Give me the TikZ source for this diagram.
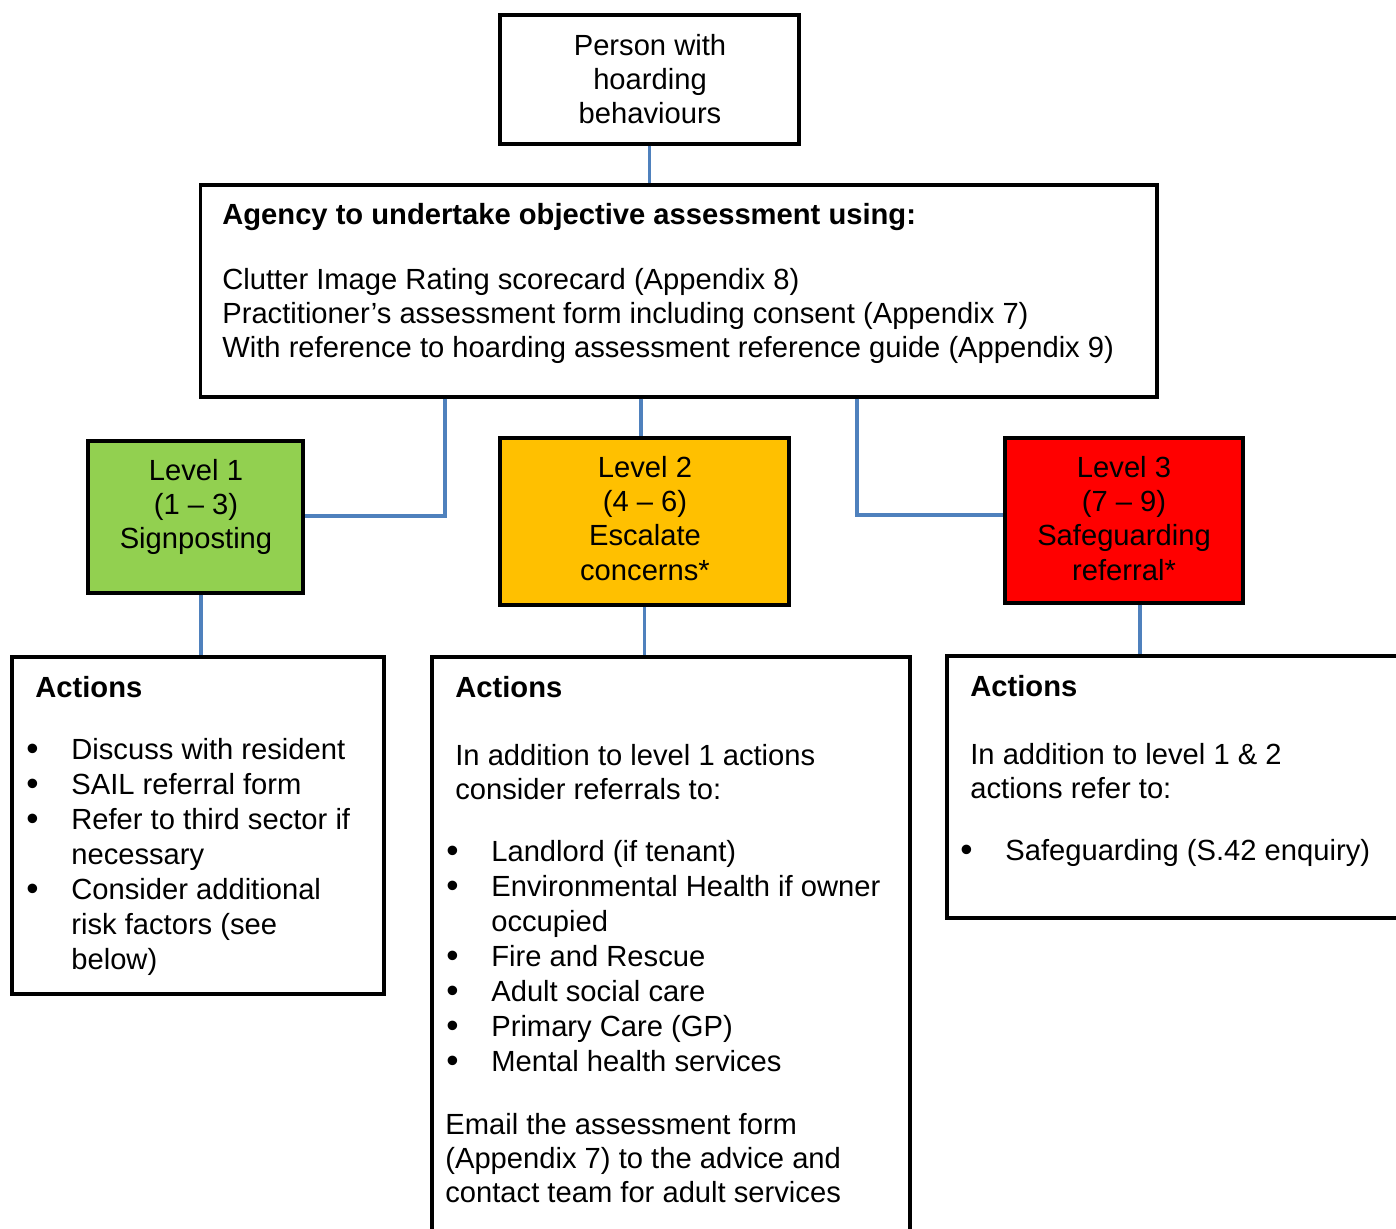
\documentclass[tikz,border=0pt]{standalone}
\usepackage{fontspec}
\setmainfont{Liberation Sans}
\usepackage{tikz}

\definecolor{linkblue}{RGB}{79,129,189}
\definecolor{lvlgreen}{RGB}{146,208,80}
\definecolor{lvlamber}{RGB}{255,192,0}
\definecolor{lvlred}{RGB}{255,0,0}

\newcommand{\txtfont}{\fontsize{16.6}{19.4}\selectfont}
\newcommand{\listfont}{\fontsize{16.6}{19.9}\selectfont}
\newcommand{\bul}{\makebox[0.9cm][l]{\raisebox{-0.05em}{\scalebox{1.2}{\textbullet}}}}
\newcommand{\cont}{\hspace*{0.9cm}}

\begin{document}
\begin{tikzpicture}[x=0.02cm,y=-0.02cm]
  \useasboundingbox (0,0) rectangle (1396,1228);

  \begin{scope}[every node/.style={rectangle,draw=black,line width=1.8pt,inner sep=0pt}]
    \node[minimum width=5.98cm,minimum height=2.58cm] (person) at (649.5,79.5) {};
    \node[minimum width=19.14cm,minimum height=4.24cm] (agency) at (678.5,291) {};
    \node[fill=lvlgreen,minimum width=4.3cm,minimum height=3.04cm] (lvl1) at (195.5,517) {};
    \node[fill=lvlamber,minimum width=5.78cm,minimum height=3.34cm] (lvl2) at (644.5,521.5) {};
    \node[fill=lvlred,minimum width=4.76cm,minimum height=3.3cm] (lvl3) at (1124,520.5) {};
    \node[minimum width=7.44cm,minimum height=6.74cm] (act1) at (198,825.5) {};
    \node[minimum width=9.56cm,minimum height=12.06cm] (act2) at (671,958.5) {};
    \node[minimum width=9.46cm,minimum height=5.24cm] (act3) at (1183.5,787) {};
  \end{scope}

  \begin{scope}[every node/.style={inner sep=0pt,font=\txtfont,align=center}]
    \node (persontxt) at (650,79) {Person with\\hoarding\\behaviours};
    \node (lvl1txt) at (196,507) {Level 1\\(1 -- 3)\\Signposting};
    \node (lvl2txt) at (645,518.5) {Level 2\\(4 -- 6)\\Escalate\\concerns*};
    \node (lvl3txt) at (1124,518.5) {Level 3\\(7 -- 9)\\Safeguarding\\referral*};
  \end{scope}

  \begin{scope}[every node/.style={inner sep=0pt,font=\txtfont,align=left,anchor=north west}]
    \node[font=\txtfont\bfseries] (agencyhead) at (222,203) {Agency to undertake objective assessment using:};
    \node (agencytxt) at (222,268) {Clutter Image Rating scorecard (Appendix 8)\\
      Practitioner’s assessment form including consent (Appendix 7)\\
      With reference to hoarding assessment reference guide (Appendix 9)};
    \node[font=\txtfont\bfseries] (act1head) at (35,676) {Actions};
    \node[font=\listfont] (act1list) at (26,738) {\bul Discuss with resident\\
      \bul SAIL referral form\\
      \bul Refer to third sector if\\
      \cont necessary\\
      \bul Consider additional\\
      \cont risk factors (see\\
      \cont below)};
    \node[font=\txtfont\bfseries] (act2head) at (455,676) {Actions};
    \node (act2txt) at (455,744) {In addition to level 1 actions\\consider referrals to:};
    \node[font=\listfont] (act2list) at (446,840) {\bul Landlord (if tenant)\\
      \bul Environmental Health if owner\\
      \cont occupied\\
      \bul Fire and Rescue\\
      \bul Adult social care\\
      \bul Primary Care (GP)\\
      \bul Mental health services};
    \node (act2mail) at (445,1113) {Email the assessment form\\(Appendix 7) to the advice and\\contact team for adult services};
    \node[font=\txtfont\bfseries] (act3head) at (970,675) {Actions};
    \node (act3txt) at (970,743) {In addition to level 1 \& 2\\actions refer to:};
    \node[font=\listfont] (act3list) at (960,839) {\bul Safeguarding (S.42 enquiry)};
  \end{scope}

  \begin{scope}[draw=linkblue,line width=0.075cm]
    \coordinate (j1) at (445,516);
    \coordinate (j2) at (641,420);
    \coordinate (j3) at (857,515);
    \coordinate (d1) at (201,620);
    \coordinate (d3) at (1140,630);
    \draw (person.south) -- (person.south |- agency.north);
    \draw (j1 |- agency.south) -- (j1) -- (lvl1.east |- j1);
    \draw (j2 |- agency.south) -- (j2 |- lvl2.north);
    \draw (j3 |- agency.south) -- (j3) -- (lvl3.west |- j3);
    \draw (d1 |- lvl1.south) -- (d1 |- act1.north);
    \draw (lvl2.south) -- (lvl2.south |- act2.north);
    \draw (d3 |- lvl3.south) -- (d3 |- act3.north);
  \end{scope}
\end{tikzpicture}
\end{document}
